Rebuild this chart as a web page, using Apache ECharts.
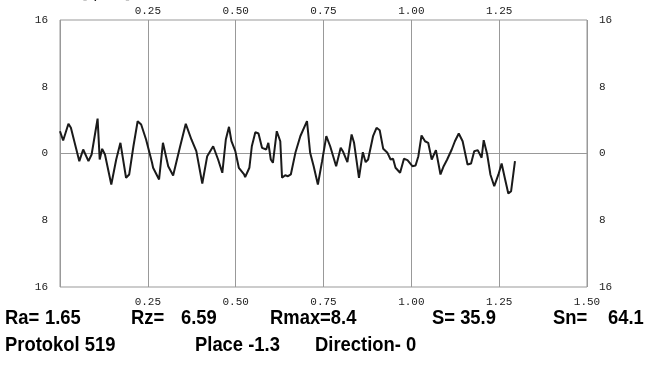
<!DOCTYPE html>
<html>
<head>
<meta charset="utf-8">
<script src="https://cdn.jsdelivr.net/npm/echarts@6/dist/echarts.min.js"></script>
<style>
  html, body { margin: 0; padding: 0; background: #fff; }
  #chart { width: 649px; height: 381px; }
</style>
</head>
<body>
<div id="chart"></div>
<script>
// Profile trace, [length, height]
const profile = [
  [0.000, 2.67], [0.009, 1.56], [0.024, 3.56], [0.031, 3.08], [0.043, 1.08],
  [0.055, -0.92], [0.066, 0.48], [0.081, -0.92], [0.090, -0.12], [0.101, 2.67],
  [0.107, 4.19], [0.113, -0.72], [0.120, 0.56], [0.128, -0.12], [0.146, -3.71],
  [0.160, -0.72], [0.172, 1.28], [0.188, -2.91], [0.197, -2.51], [0.209, 0.87],
  [0.221, 3.87], [0.231, 3.47], [0.245, 1.68], [0.262, -1.11], [0.265, -1.71],
  [0.282, -3.11], [0.293, 1.28], [0.308, -1.52], [0.322, -2.63], [0.341, 0.68],
  [0.358, 3.56], [0.374, 1.68], [0.388, 0.28], [0.405, -3.59], [0.419, -0.32],
  [0.436, 0.87], [0.450, -0.72], [0.462, -2.31], [0.472, 1.68], [0.481, 3.20],
  [0.488, 1.47], [0.499, 0.28], [0.509, -1.71], [0.524, -2.51], [0.527, -2.84],
  [0.539, -1.71], [0.546, 0.87], [0.556, 2.55], [0.565, 2.40], [0.575, 0.68],
  [0.587, 0.48], [0.593, 1.28], [0.600, -0.72], [0.606, -1.11], [0.617, 2.67],
  [0.627, 1.47], [0.632, -2.91], [0.641, -2.60], [0.649, -2.72], [0.657, -2.51],
  [0.670, 0.08], [0.684, 2.07], [0.703, 3.87], [0.712, 0.08], [0.722, -1.52],
  [0.734, -3.71], [0.746, -0.92], [0.758, 2.07], [0.769, 0.87], [0.786, -1.52],
  [0.799, 0.68], [0.805, 0.28], [0.818, -1.04], [0.830, 2.28], [0.837, 1.28],
  [0.851, -2.91], [0.862, 0.16], [0.870, -1.04], [0.877, -0.72], [0.891, 2.07],
  [0.901, 3.08], [0.910, 2.79], [0.920, 0.56], [0.932, 0.08], [0.941, -0.72],
  [0.948, -0.63], [0.955, -1.71], [0.968, -2.31], [0.979, -0.63], [0.989, -0.80],
  [1.003, -1.52], [1.012, -1.44], [1.020, -0.32], [1.029, 2.16], [1.039, 1.47],
  [1.048, 1.28], [1.058, -0.72], [1.070, 0.40], [1.083, -2.51], [1.092, -1.52],
  [1.102, -0.72], [1.115, 0.48], [1.124, 1.47], [1.135, 2.40], [1.146, 1.47],
  [1.160, -1.32], [1.170, -1.20], [1.179, 0.28], [1.189, 0.40], [1.200, -0.51],
  [1.206, 1.59], [1.216, -0.12], [1.225, -2.51], [1.236, -3.92], [1.248, -2.51],
  [1.257, -1.20], [1.267, -3.11], [1.276, -4.79], [1.284, -4.51], [1.295, -0.92]
];

// Parameter rows under the chart: [text, x]
const statsRow = [
  ["Ra=", 5], ["1.65", 45], ["Rz=", 131], ["6.59", 181],
  ["Rmax=8.4", 270], ["S= 35.9", 432], ["Sn=", 553], ["64.1", 608]
];
const infoRow = [
  ["Protokol 519", 5], ["Place -1.3", 195], ["Direction- 0", 315]
];

const chart = echarts.init(document.getElementById("chart"));

const tickFont = { fontFamily: "Liberation Mono", fontSize: 11, color: "#222" };
// no narrow bold face installed, so squeeze a bold one horizontally
const boldFont = "bold 20px 'Liberation Sans', sans-serif";
const squeeze = 0.92;

const textEls = [];
statsRow.forEach(([t, x]) => textEls.push({
  type: "text", x: x, y: 318, scaleX: squeeze,
  style: { text: t, font: boldFont, fill: "#000", verticalAlign: "middle" }
}));
infoRow.forEach(([t, x]) => textEls.push({
  type: "text", x: x, y: 345, scaleX: squeeze,
  style: { text: t, font: boldFont, fill: "#000", verticalAlign: "middle" }
}));
// clipped caption at the very top
textEls.push({
  type: "text", x: 57, y: 1,
  style: { text: "Y,", font: "16px 'DejaVu Sans'", fill: "#222", align: "right", verticalAlign: "bottom" }
});
textEls.push({
  type: "text", x: 82, y: 2,
  style: { text: "[ μm ]", font: "16px 'DejaVu Sans'", fill: "#222", verticalAlign: "bottom" }
});

const yAxisBase = {
  type: "value",
  min: -16,
  max: 16,
  interval: 8,
  axisLine: { show: false },
  axisTick: { show: false },
  axisLabel: { ...tickFont, margin: 12, formatter: v => String(Math.abs(v)) }
};

chart.setOption({
  animation: false,
  grid: {
    left: 60, right: 62, top: 20, bottom: 94,
    show: true, borderColor: "#999", borderWidth: 1
  },
  xAxis: [
    {
      type: "value", position: "bottom", min: 0, max: 1.5, interval: 0.25,
      axisLine: { show: false }, axisTick: { show: false },
      splitLine: { show: true, lineStyle: { color: "#999", width: 1 } },
      axisLabel: { ...tickFont, margin: 10, formatter: v => (v === 0 ? "" : v.toFixed(2)) }
    },
    {
      type: "value", position: "top", min: 0, max: 1.5, interval: 0.25,
      axisLine: { show: false }, axisTick: { show: false }, splitLine: { show: false },
      axisLabel: { ...tickFont, margin: 3, formatter: v => (v === 0 || v === 1.5 ? "" : v.toFixed(2)) }
    }
  ],
  yAxis: [
    {
      ...yAxisBase, position: "left",
      // only the zero line is drawn
      splitLine: { show: true, lineStyle: { color: ["transparent", "transparent", "#999", "transparent", "transparent"], width: 1 } }
    },
    { ...yAxisBase, position: "right", splitLine: { show: false } }
  ],
  series: [
    {
      type: "line",
      data: profile,
      showSymbol: false,
      lineStyle: { color: "#1a1a1a", width: 2 },
      z: 5
    }
  ],
  graphic: textEls
});
</script>
</body>
</html>
